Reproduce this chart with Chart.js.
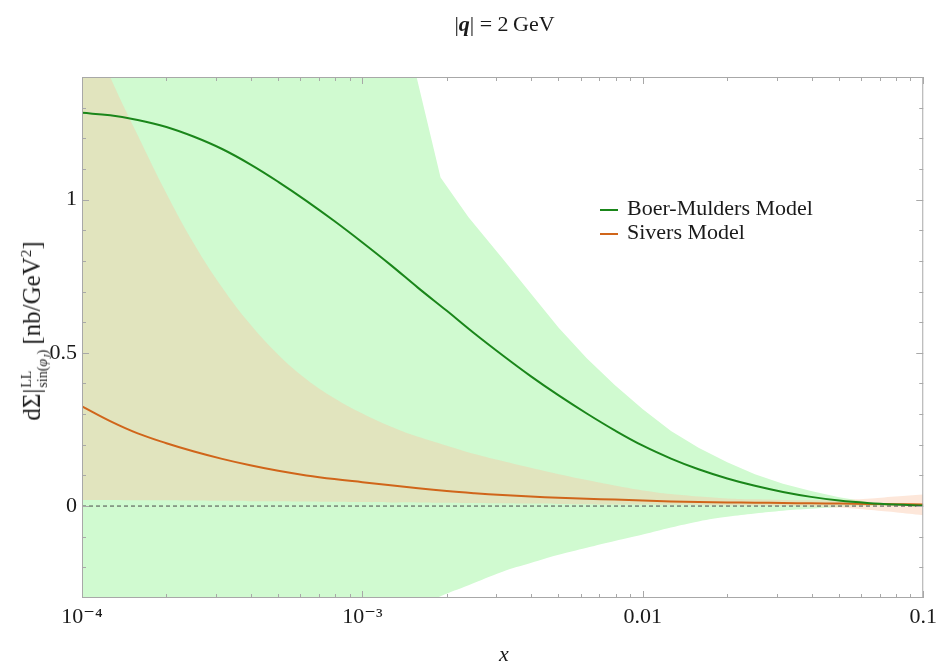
<!DOCTYPE html>
<html>
<head>
<meta charset="utf-8">
<script src="https://cdn.jsdelivr.net/npm/chart.js@4.4.0/dist/chart.umd.min.js"></script>
<style>
  body { margin: 0; background: #fff; }
  #wrap { position: relative; width: 943px; height: 662px; font-family: 'Liberation Serif', 'DejaVu Serif', serif; color: #1a1a1a; }
  #title { position: absolute; left: 82px; width: 845px; top: 11px; text-align: center; font-size: 22px; line-height: 26px; }
  #ylabel { position: absolute; left: 34px; top: 331px; transform: translate(-50%, -50%) rotate(-90deg); white-space: nowrap; font-size: 25px; line-height: 28px; }
  #ylabel .ss { display: inline-flex; flex-direction: column; font-size: 14px; line-height: 16px; vertical-align: 9px; margin: 0 5px 0 1px; }
  #ylabel sub { font-size: 10px; }
  #ylabel sup { font-size: 15px; }
  #xlabel { position: absolute; left: 504px; top: 654px; transform: translate(-50%, -50%); font-size: 22px; font-style: italic; }
  #legend { position: absolute; left: 600px; top: 196px; font-size: 22px; line-height: 24px; }
  #legend .sw { display: inline-block; width: 18px; height: 2px; vertical-align: middle; margin-right: 9px; }
</style>
</head>
<body>
<div id="wrap">
  <canvas id="chart" width="943" height="662"></canvas>
  <div id="title">|<b><i>q</i></b>| = 2&#8201;GeV</div>
  <div id="ylabel">dΣ|<span class="ss"><span>LL</span><span>sin(<i>φ<sub>J</sub></i>)</span></span>[nb/GeV<sup>2</sup>]</div>
  <div id="xlabel">x</div>
  <div id="legend">
    <div><span class="sw" id="sw-bm"></span>Boer-Mulders Model</div>
    <div><span class="sw" id="sw-siv"></span>Sivers Model</div>
  </div>
</div>
<script>
// x grid, log spaced from 1e-4 to 0.1
const xGrid = [
  1.00e-4, 1.26e-4, 1.58e-4, 2.00e-4, 2.51e-4, 3.16e-4, 3.98e-4, 5.01e-4, 6.31e-4, 7.94e-4,
  1.00e-3, 1.26e-3, 1.58e-3, 2.00e-3, 2.51e-3, 3.16e-3, 3.98e-3, 5.01e-3, 6.31e-3, 7.94e-3,
  1.00e-2, 1.26e-2, 1.58e-2, 2.00e-2, 2.51e-2, 3.16e-2, 3.98e-2, 5.01e-2, 6.31e-2, 7.94e-2,
  1.00e-1
];

// central curves
const bmCentral = [
  1.283, 1.275, 1.260, 1.237, 1.205, 1.165, 1.115, 1.058, 0.996, 0.930,
  0.860, 0.787, 0.712, 0.637, 0.563, 0.492, 0.424, 0.361, 0.302, 0.247,
  0.197, 0.155, 0.120, 0.090, 0.066, 0.046, 0.030, 0.018, 0.010, 0.005,
  0.002
];
const sivCentral = [
  0.325, 0.277, 0.237, 0.205, 0.178, 0.154, 0.133, 0.115, 0.100, 0.088,
  0.078, 0.068, 0.058, 0.049, 0.042, 0.036, 0.031, 0.027, 0.024, 0.021,
  0.018, 0.015, 0.013, 0.012, 0.011, 0.010, 0.009, 0.008, 0.007, 0.006,
  0.005
];

// Sivers uncertainty band
const sivUpper = [
  1.62, 1.40, 1.21, 1.02, 0.855, 0.713, 0.593, 0.494, 0.414, 0.352,
  0.302, 0.260, 0.226, 0.197, 0.170, 0.147, 0.125, 0.104, 0.085, 0.067,
  0.051, 0.039, 0.031, 0.025, 0.022, 0.020, 0.019, 0.020, 0.024, 0.031,
  0.038
];
const sivLower = [
  0.020, 0.020, 0.019, 0.019, 0.018, 0.017, 0.016, 0.016, 0.015, 0.014,
  0.013, 0.012, 0.012, 0.011, 0.010, 0.009, 0.008, 0.007, 0.006, 0.005,
  0.005, 0.004, 0.003, 0.002, 0.001, 0.000, -0.002, -0.005, -0.012, -0.020,
  -0.030
];

// Boer-Mulders uncertainty band (own x points, upper edge has a kink)
const bmBandX = [
  1.00e-4, 1.26e-3, 1.56e-3, 1.90e-3, 2.39e-3, 3.16e-3, 3.98e-3, 5.01e-3, 6.31e-3, 7.94e-3,
  1.00e-2, 1.26e-2, 1.58e-2, 2.00e-2, 2.51e-2, 3.16e-2, 3.98e-2, 5.01e-2, 6.31e-2, 7.94e-2,
  1.00e-1
];
const bmUpper = [
  3.0, 1.80, 1.40, 1.072, 0.942, 0.808, 0.694, 0.582, 0.482, 0.395,
  0.316, 0.245, 0.190, 0.143, 0.104, 0.073, 0.049, 0.029, 0.014, 0.007,
  0.005
];
const bmLower = [
  -0.80, -0.40, -0.333, -0.294, -0.258, -0.214, -0.186, -0.159, -0.136, -0.114,
  -0.093, -0.070, -0.050, -0.035, -0.024, -0.015, -0.009, -0.003, 0.000, 0.001,
  0.001
];

const zeroX = [1e-4, 1e-1];
const zeroY = [0, 0];

const xTickValues = [1e-4, 1e-3, 1e-2, 1e-1];
const xTickLabels = ["10\u207B\u2074", "10\u207B\u00B3", "0.01", "0.1"];
const yTickValues = [0, 0.5, 1];
const yTickLabels = ["0", "0.5", "1"];

const bmColor = "#1a861a";
const sivColor = "#d0651a";
document.getElementById("sw-bm").style.background = bmColor;
document.getElementById("sw-siv").style.background = sivColor;

function pts(xs, ys) {
  return xs.map((x, i) => ({ x: x, y: ys[i] }));
}

// frame with inward ticks on all four sides
const framePlugin = {
  id: "frame",
  afterDatasetsDraw(chart) {
    const { ctx, chartArea: a, scales } = chart;
    const x = scales.x, y = scales.y;
    ctx.save();
    ctx.strokeStyle = "#a8a8a8";
    ctx.lineWidth = 1;
    ctx.strokeRect(a.left + 0.5, a.top + 0.5, a.right - a.left - 1, a.bottom - a.top - 1);
    ctx.beginPath();
    for (let e = -4; e <= -1; e++) {
      for (let k = 1; k <= 9; k++) {
        if (e === -1 && k > 1) break;
        const px = Math.round(x.getPixelForValue(k * Math.pow(10, e))) + 0.5;
        const len = k === 1 ? 7 : 4;
        ctx.moveTo(px, a.bottom); ctx.lineTo(px, a.bottom - len);
        ctx.moveTo(px, a.top); ctx.lineTo(px, a.top + len);
      }
    }
    for (let i = -2; i <= 13; i++) {
      const py = Math.round(y.getPixelForValue(i / 10)) + 0.5;
      const len = i % 5 === 0 ? 7 : 4;
      ctx.moveTo(a.left, py); ctx.lineTo(a.left + len, py);
      ctx.moveTo(a.right, py); ctx.lineTo(a.right - len, py);
    }
    ctx.stroke();
    ctx.restore();
  }
};

Chart.defaults.font.family = "'Liberation Serif', 'DejaVu Serif', serif";
Chart.defaults.font.size = 22;
Chart.defaults.color = "#1a1a1a";

const noLine = { borderWidth: 0, borderColor: "rgba(0,0,0,0)", pointRadius: 0 };

new Chart(document.getElementById("chart"), {
  type: "line",
  data: {
    datasets: [
      { label: "zero", data: pts(zeroX, zeroY), borderColor: "#4a4a4a", borderWidth: 1,
        borderDash: [4, 3], pointRadius: 0, fill: false, order: 0 },
      { label: "Boer-Mulders Model", data: pts(xGrid, bmCentral), borderColor: bmColor,
        borderWidth: 2, pointRadius: 0, fill: false, tension: 0.4, order: 1 },
      { label: "Sivers Model", data: pts(xGrid, sivCentral), borderColor: sivColor,
        borderWidth: 2, pointRadius: 0, fill: false, tension: 0.4, order: 2 },
      { label: "Sivers upper", data: pts(xGrid, sivUpper), ...noLine, fill: 4,
        backgroundColor: "rgba(250,195,163,0.4)", tension: 0.4, order: 3 },
      { label: "Sivers lower", data: pts(xGrid, sivLower), ...noLine, fill: false,
        tension: 0.4, order: 4 },
      { label: "BM upper", data: pts(bmBandX, bmUpper), ...noLine, fill: 6,
        backgroundColor: "rgb(208,250,208)", tension: 0, order: 5 },
      { label: "BM lower", data: pts(bmBandX, bmLower), ...noLine, fill: false,
        tension: 0.4, order: 6 }
    ]
  },
  options: {
    responsive: false,
    animation: false,
    devicePixelRatio: 1,
    layout: { padding: { top: 77, right: 16, left: 0, bottom: 0 } },
    plugins: { legend: { display: false }, tooltip: { enabled: false } },
    scales: {
      x: {
        type: "logarithmic",
        min: 1e-4,
        max: 0.1,
        grid: { display: false, drawTicks: false },
        border: { display: false },
        afterBuildTicks: (s) => { s.ticks = xTickValues.map((v) => ({ value: v })); },
        afterFit: (s) => { s.height = 64; },
        ticks: {
          autoSkip: false,
          maxRotation: 0,
          padding: 6,
          callback: (v, i) => xTickLabels[i]
        }
      },
      y: {
        type: "linear",
        min: -0.3,
        max: 1.4,
        grid: { display: false, drawTicks: false },
        border: { display: false },
        afterBuildTicks: (s) => { s.ticks = yTickValues.map((v) => ({ value: v })); },
        afterFit: (s) => { s.width = 82; },
        ticks: {
          padding: 5,
          callback: (v, i) => yTickLabels[i]
        }
      }
    }
  },
  plugins: [framePlugin]
});
</script>
</body>
</html>
